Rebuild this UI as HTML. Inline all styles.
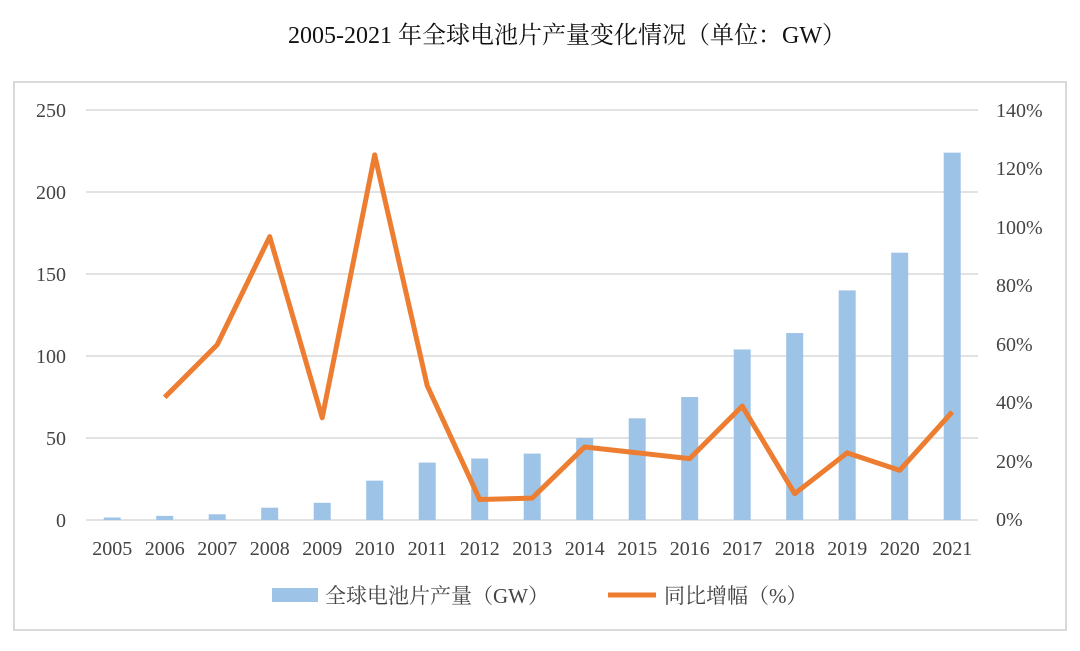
<!DOCTYPE html>
<html><head><meta charset="utf-8"><style>
body{margin:0;background:#fff;}
text{font-family:"Liberation Serif","Noto Serif CJK SC",serif;fill:#444;}
</style></head><body>
<svg width="1080" height="646" xmlns="http://www.w3.org/2000/svg">
<rect x="0" y="0" width="1080" height="646" fill="#fff"/>
<text x="567" y="43" font-size="24" text-anchor="middle" style="fill:#111">2005-2021 年全球电池片产量变化情况（单位：GW）</text>
<rect x="14" y="82" width="1052" height="548" fill="none" stroke="#d9d9d9" stroke-width="2"/>
<g stroke="#d9d9d9" stroke-width="1.5">
<line x1="86" y1="110" x2="978" y2="110"/>
<line x1="86" y1="192" x2="978" y2="192"/>
<line x1="86" y1="274" x2="978" y2="274"/>
<line x1="86" y1="356" x2="978" y2="356"/>
<line x1="86" y1="438" x2="978" y2="438"/>
<line x1="86" y1="520" x2="978" y2="520"/>
</g>
<g font-size="20" text-anchor="end">
<text x="66" y="117">250</text><text x="66" y="199">200</text><text x="66" y="281">150</text>
<text x="66" y="363">100</text><text x="66" y="445">50</text><text x="66" y="527">0</text>
</g>
<g font-size="20" text-anchor="start">
<text x="996" y="117">140%</text><text x="996" y="175">120%</text><text x="996" y="234">100%</text>
<text x="996" y="292">80%</text><text x="996" y="351">60%</text><text x="996" y="409">40%</text>
<text x="996" y="468">20%</text><text x="996" y="526">0%</text>
</g>
<g id="bars" fill="#9DC3E6"></g>
<g id="xl" font-size="20" text-anchor="middle"></g>
<polyline id="ln" fill="none" stroke="#ED7D31" stroke-width="5" stroke-linejoin="round"/>
<rect x="272" y="588" width="46" height="14" fill="#9DC3E6"/>
<text x="325" y="603" font-size="21">全球电池片产量（GW）</text>
<line x1="608" y1="595" x2="656" y2="595" stroke="#ED7D31" stroke-width="5"/>
<text x="664" y="603" font-size="21">同比增幅（%）</text>
</svg>
<script>
var v=[1.5,2.5,3.5,7.5,10.5,24,35,37.5,40.5,50,62,75,104,114,140,163,224];
var g=[null,42,60,97,35,125,46,7,7.5,25,23,21,39,9,23,17,37];
var b=document.getElementById('bars'),xl=document.getElementById('xl'),pts=[];
var ns="http://www.w3.org/2000/svg";
for(var i=0;i<17;i++){var cx=112.2+i*52.5;
var r=document.createElementNS(ns,'rect');var h=v[i]*1.64;
r.setAttribute('x',cx-8.5);r.setAttribute('y',520-h);r.setAttribute('width',17);r.setAttribute('height',h);b.appendChild(r);
var t=document.createElementNS(ns,'text');t.setAttribute('x',cx);t.setAttribute('y',555);t.textContent=2005+i;xl.appendChild(t);
if(g[i]!==null)pts.push(cx+','+(520-g[i]*2.921));}
document.getElementById('ln').setAttribute('points',pts.join(' '));
</script>
</body></html>
